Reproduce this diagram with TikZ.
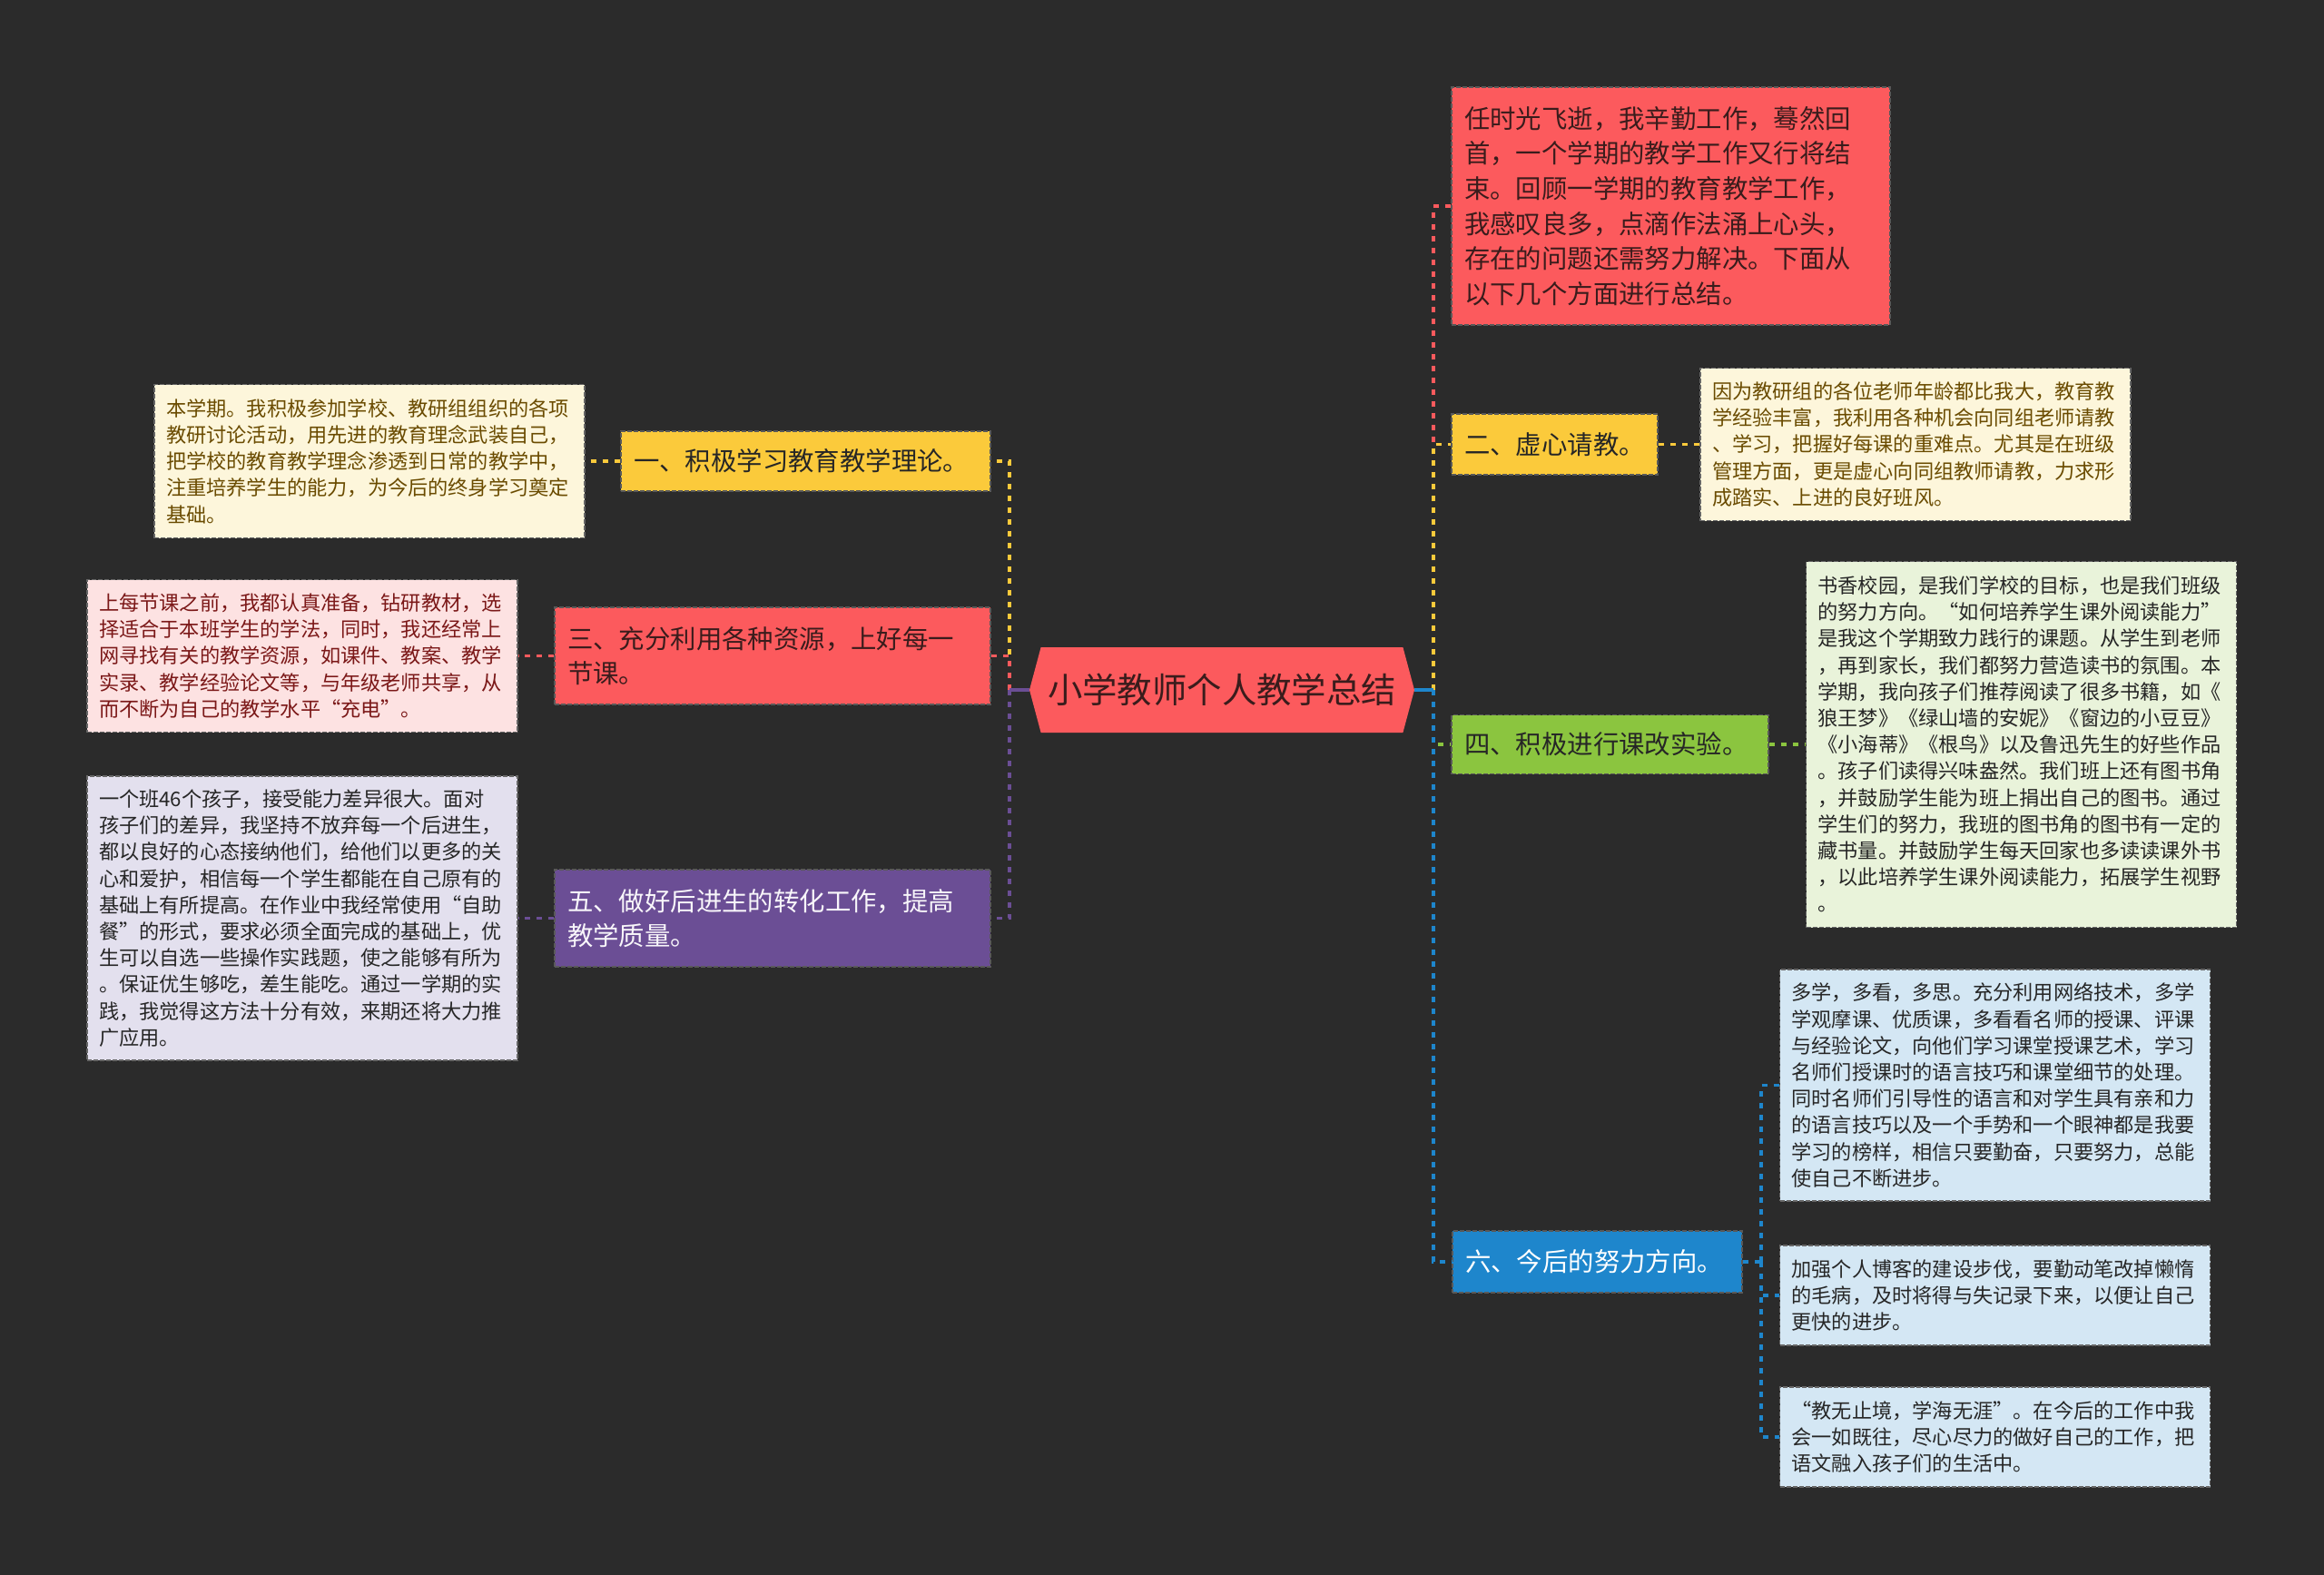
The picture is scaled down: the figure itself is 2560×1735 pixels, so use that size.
\documentclass[tikz,border=0pt]{standalone}
\usepackage{fontspec}
\setmainfont{Noto Sans CJK SC}
\usepackage{tikz}
\usetikzlibrary{shapes.symbols}

\definecolor{bgdark}{HTML}{2B2B2B}
\definecolor{redbr}{HTML}{FC5A5D}
\definecolor{yellowbr}{HTML}{FBCA3B}
\definecolor{purplebr}{HTML}{6B4E95}
\definecolor{greenbr}{HTML}{8BC53F}
\definecolor{bluebr}{HTML}{1E86CC}
\definecolor{creamleaf}{HTML}{FDF6DB}
\definecolor{pinkleaf}{HTML}{FDE2E2}
\definecolor{lavleaf}{HTML}{E3E0EE}
\definecolor{greenleaf}{HTML}{E9F3DA}
\definecolor{blueleaf}{HTML}{D4E7F4}
\definecolor{brownink}{HTML}{6A4B00}
\definecolor{maroonink}{HTML}{7B1818}
\definecolor{darkink}{HTML}{262626}
\definecolor{rootink}{HTML}{3A1C1C}

\tikzset{
  topicbox/.style={rectangle,draw=black!65,line width=0.8pt,dash pattern=on 2.5pt off 1pt,
    inner xsep=7pt,inner ysep=0pt,align=left,font=\fontsize{14.2pt}{19.3pt}\selectfont},
  leafbox/.style={rectangle,draw=black!60,line width=0.8pt,dash pattern=on 2.5pt off 1pt,
    inner xsep=6.5pt,inner ysep=0pt,align=left,text width=224pt,font=\fontsize{11.1pt}{14.6pt}\selectfont},
  rootbox/.style={signal,signal to=west and east,signal pointer angle=150,fill=redbr,inner sep=0pt,
    minimum width=212pt,minimum height=47pt,text=rootink,font=\fontsize{19.2pt}{24pt}\selectfont},
  link/.style={draw=#1,line width=1.7pt,dash pattern=on 3pt off 3.5pt},
  stub/.style={draw=#1,line width=1.8pt},
}

\begin{document}
\begin{tikzpicture}[x=0.5pt,y=-0.5pt]
        \fill[bgdark] (0,0) rectangle (2560,1735);

        \node[rootbox] (root) at (1346,760) {小学教师个人教学总结};

        % left side
        \node[topicbox,fill=yellowbr,text=black!85,text width=189.5pt,minimum height=33pt] (t1) at (887.5,508) {一、积极学习教育教学理论。};
        \node[topicbox,fill=redbr,text=rootink,text width=226pt,minimum height=53.5pt] (t3) at (851,722.5) {三、充分利用各种资源，上好每一\\节课。};
        \node[topicbox,fill=purplebr,text=white!95!purplebr,text width=226pt,minimum height=53.5pt] (t5) at (851,1011.5) {五、做好后进生的转化工作，提高\\教学质量。};

        \node[leafbox,fill=creamleaf,text=brownink,minimum height=84.5pt] (l1) at (407,508) {本学期。我积极参加学校、教研组组织的各项\\教研讨论活动，用先进的教育理念武装自己，\\把学校的教育教学理念渗透到日常的教学中，\\注重培养学生的能力，为今后的终身学习奠定\\基础。};
        \node[leafbox,fill=pinkleaf,text=maroonink,minimum height=84pt] (l3) at (333,722.5) {上每节课之前，我都认真准备，钻研教材，选\\择适合于本班学生的学法，同时，我还经常上\\网寻找有关的教学资源，如课件、教案、教学\\实录、教学经验论文等，与年级老师共享，从\\而不断为自己的教学水平“充电”。};
        \node[leafbox,fill=lavleaf,text=darkink,minimum height=156.5pt] (l5) at (333,1011.5) {一个班46个孩子，接受能力差异很大。面对\\孩子们的差异，我坚持不放弃每一个后进生，\\都以良好的心态接纳他们，给他们以更多的关\\心和爱护，相信每一个学生都能在自己原有的\\基础上有所提高。在作业中我经常使用“自助\\餐”的形式，要求必须全面完成的基础上，优\\生可以自选一些操作实践题，使之能够有所为\\。保证优生够吃，差生能吃。通过一学期的实\\践，我觉得这方法十分有效，来期还将大力推\\广应用。};

        % right side
        \node[topicbox,fill=redbr,text=rootink,text width=227.5pt,minimum height=131pt] (t0) at (1840.5,227) {任时光飞逝，我辛勤工作，蓦然回\\首，一个学期的教学工作又行将结\\束。回顾一学期的教育教学工作，\\我感叹良多，点滴作法涌上心头，\\存在的问题还需努力解决。下面从\\以下几个方面进行总结。};
        \node[topicbox,fill=yellowbr,text=black!85,text width=99.5pt,minimum height=33.5pt] (t2) at (1712.5,489.5) {二、虚心请教。};
        \node[topicbox,fill=greenbr,text=black!85,text width=160.5pt,minimum height=32.5pt] (t4) at (1773.5,820) {四、积极进行课改实验。};
        \node[topicbox,fill=bluebr,text=white,text width=145.5pt,minimum height=34pt] (t6) at (1759.5,1390) {六、今后的努力方向。};

        \node[leafbox,fill=creamleaf,text=brownink,minimum height=84pt] (l2) at (2110,489.5) {因为教研组的各位老师年龄都比我大，教育教\\学经验丰富，我利用各种机会向同组老师请教\\、学习，把握好每课的重难点。尤其是在班级\\管理方面，更是虚心向同组教师请教，力求形\\成踏实、上进的良好班风。};
        \node[leafbox,fill=greenleaf,text=darkink,minimum height=201.5pt] (l4) at (2226.5,820) {书香校园，是我们学校的目标，也是我们班级\\的努力方向。“如何培养学生课外阅读能力”\\是我这个学期致力践行的课题。从学生到老师\\，再到家长，我们都努力营造读书的氛围。本\\学期，我向孩子们推荐阅读了很多书籍，如《\\狼王梦》《绿山墙的安妮》《窗边的小豆豆》\\《小海蒂》《根鸟》以及鲁迅先生的好些作品\\。孩子们读得兴味盎然。我们班上还有图书角\\，并鼓励学生能为班上捐出自己的图书。通过\\学生们的努力，我班的图书角的图书有一定的\\藏书量。并鼓励学生每天回家也多读读课外书\\，以此培养学生课外阅读能力，拓展学生视野\\。};
        \node[leafbox,fill=blueleaf,text=darkink,minimum height=127.5pt] (l6a) at (2197.5,1195.5) {多学，多看，多思。充分利用网络技术，多学\\学观摩课、优质课，多看看名师的授课、评课\\与经验论文，向他们学习课堂授课艺术，学习\\名师们授课时的语言技巧和课堂细节的处理。\\同时名师们引导性的语言和对学生具有亲和力\\的语言技巧以及一个手势和一个眼神都是我要\\学习的榜样，相信只要勤奋，只要努力，总能\\使自己不断进步。};
        \node[leafbox,fill=blueleaf,text=darkink,minimum height=55pt] (l6b) at (2197.5,1427) {加强个人博客的建设步伐，要勤动笔改掉懒惰\\的毛病，及时将得与失记录下来，以便让自己\\更快的进步。};
        \node[leafbox,fill=blueleaf,text=darkink,minimum height=55pt] (l6c) at (2197.5,1583) {“教无止境，学海无涯”。在今后的工作中我\\会一如既往，尽心尽力的做好自己的工作，把\\语文融入孩子们的生活中。};

        \coordinate (lbus) at (1112,760);
        \coordinate (rbus) at (1579,760);
        \coordinate (sbus) at (1940,1390);

        % connectors
        \draw[link=yellowbr] (lbus) |- (t1.east);
        \draw[link=redbr] (lbus) |- (t3.east);
        \draw[link=purplebr] (lbus) |- (t5.east);
        \draw[stub=purplebr] (root.west) -- (lbus);

        \draw[link=redbr] (rbus) |- (t0.west);
        \draw[link=yellowbr] (rbus) |- (t2.west);
        \draw[link=greenbr] (rbus) |- (t4.west);
        \draw[link=bluebr] (rbus) |- (t6.west);
        \draw[stub=bluebr] (root.east) -- (rbus);

        \draw[link=yellowbr] (t1.west) -- (l1.east);
        \draw[link=redbr] (t3.west) -- (l3.east);
        \draw[link=purplebr] (t5.west) -- (l5.east);
        \draw[link=yellowbr] (t2.east) -- (l2.west);
        \draw[link=greenbr] (t4.east) -- (l4.west);
        \draw[link=bluebr] (t6.east) -- (sbus);
        \draw[link=bluebr] (sbus) |- (l6a.west);
        \draw[link=bluebr] (sbus) |- (l6b.west);
        \draw[link=bluebr] (sbus) |- (l6c.west);
    \end{tikzpicture}
\end{document}
